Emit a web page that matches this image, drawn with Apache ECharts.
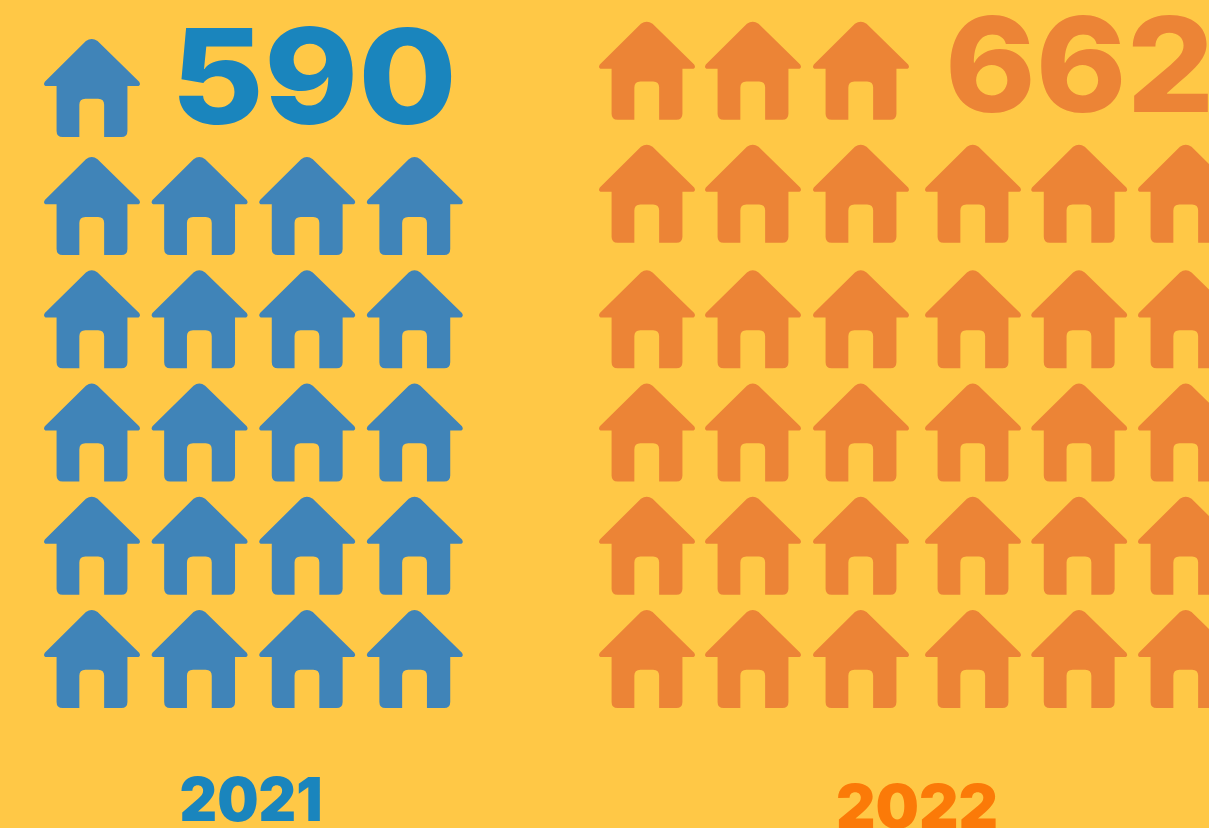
<!DOCTYPE html>
<html>
<head>
<meta charset="utf-8">
<style>html,body{margin:0;padding:0;background:#FFC846;overflow:hidden}#c{width:1209px;height:828px}</style>
<script src="https://cdn.jsdelivr.net/npm/echarts@6/dist/echarts.min.js"></script>
</head>
<body>
<div id="c"></div>
<script>
const years = ['2021', '2022'];
const totals = [590, 662];
const rowNames = ['r1', 'r2', 'r3', 'r4', 'r5', 'r6'];
const colNames = ['c1', 'c2', 'c3', 'c4', 'c5', 'c6'];
const housesPerRow2021 = [1, 4, 4, 4, 4, 4];
const housesPerRow2022 = [3, 6, 6, 6, 6, 6];

const HOUSE = 'path://M42,2.5 Q47.7,-1.8 53.5,2.5 L94.6,43 Q96.5,46 94,47.3 L83,47.3 L83,92 Q83,98 77,98 L60,98 L60,66 Q60,60 54,60 L41.5,60 Q35.5,60 35.5,66 L35.5,98 L19,98 Q13,98 13,92 L13,47.3 L2,47.3 Q-0.5,46 1.4,43 Z';

function houses(counts, rowNudge, colNudge) {
  const out = [];
  counts.forEach((n, r) => {
    for (let c = 0; c < n; c++) {
      out.push({ value: [colNames[c], rowNames[r]], symbolOffset: [colNudge[c] || 0, rowNudge[r] || 0] });
    }
  });
  return out;
}

const chart = echarts.init(document.getElementById('c'), null, { width: 1209, height: 828 });
const yBand = 113.2;
const numFont = { fontFamily: 'Inter', fontWeight: 800, fontSize: 132 };
const yearFont = { fontFamily: 'Inter', fontWeight: 900, fontSize: 60 };

chart.setOption({
  backgroundColor: '#FFC846',
  animation: false,
  grid: [
    { left: 38.2, top: 36.3, width: 430.4, height: yBand * 6 },
    { left: 647, top: 36.3, width: 539, height: yBand * 6 }
  ],
  xAxis: [
    { type: 'category', gridIndex: 0, show: false, data: colNames.slice(0, 4) },
    { type: 'category', gridIndex: 1, show: false, boundaryGap: false, data: colNames }
  ],
  yAxis: [
    { type: 'category', gridIndex: 0, show: false, inverse: true, data: rowNames },
    { type: 'category', gridIndex: 1, show: false, inverse: true, data: rowNames }
  ],
  series: [
    {
      name: years[0], type: 'scatter', xAxisIndex: 0, yAxisIndex: 0, silent: true, clip: false,
      symbol: HOUSE, symbolSize: [96, 98], itemStyle: { color: '#4084B8', opacity: 1 },
      data: houses(housesPerRow2021, [-5, 0, 0, 0, 0, 0], [0, 0, 0, 0])
    },
    {
      name: years[1], type: 'scatter', xAxisIndex: 1, yAxisIndex: 1, silent: true, clip: false,
      symbol: HOUSE, symbolSize: [96, 98], itemStyle: { color: '#EC8436', opacity: 1 },
      data: houses(housesPerRow2022, [-22.2, -12.4, 0, 0, 0, 0], [0, -1.8, -1.6, 2.6, 1, 0])
    }
  ],
  graphic: [
    { type: 'text', x: 171, y: 84.5, scaleX: 1.08, style: Object.assign({ text: String(totals[0]), fill: '#1A85BD', verticalAlign: 'middle', align: 'left' }, numFont) },
    { type: 'text', x: 945, y: 72, scaleX: 1.04, style: Object.assign({ text: String(totals[1]), fill: '#EC8436', verticalAlign: 'middle', align: 'left' }, numFont) },
    { type: 'text', x: 251, y: 802.5, scaleX: 0.97, style: Object.assign({ text: years[0], fill: '#1A85BD', verticalAlign: 'middle', align: 'center' }, yearFont) },
    { type: 'text', x: 917, y: 810, scaleX: 1.02, style: Object.assign({ text: years[1], fill: '#FB7A08', verticalAlign: 'middle', align: 'center' }, yearFont) }
  ]
});
</script>
</body>
</html>
